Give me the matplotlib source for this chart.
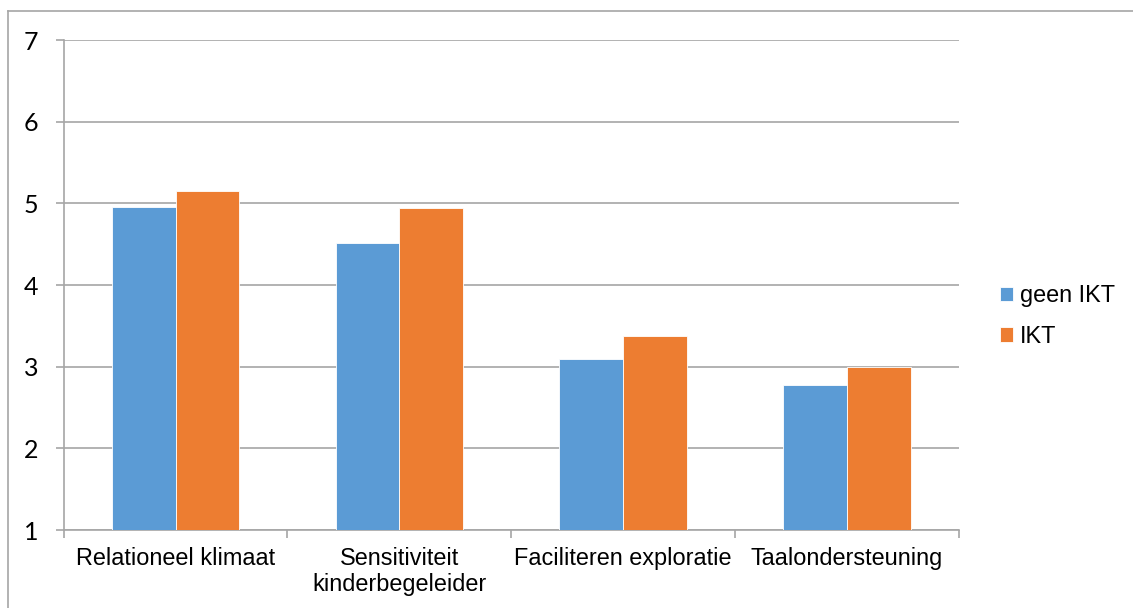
import matplotlib
matplotlib.use("Agg")
import matplotlib.pyplot as plt
import numpy as np
from matplotlib.lines import Line2D

categories = ["Relationeel klimaat", "Sensitiviteit\nkinderbegeleider", "Faciliteren exploratie", "Taalondersteuning"]
series_names = ["geen IKT", "IKT"]
geen_ikt = [4.95, 4.52, 3.10, 2.78]
ikt = [5.15, 4.94, 3.38, 3.00]
y_ticks = [1, 2, 3, 4, 5, 6, 7]
colors = ["#5B9BD5", "#ED7D31"]

plt.rcParams['font.family'] = ['Liberation Sans', 'DejaVu Sans']

fig = plt.figure(figsize=(11.33, 6.08), dpi=100)
W, H = 1133, 608
ax = fig.add_axes([63.6 / W, 1 - 530 / H, (959 - 63.6) / W, (530 - 40) / H])

x = np.arange(len(categories))
bw = 0.285
ax.bar(x - bw / 2, geen_ikt, bw, bottom=0, color=colors[0], edgecolor='white', linewidth=0.6, label=series_names[0], zorder=3)
ax.bar(x + bw / 2, ikt, bw, bottom=0, color=colors[1], edgecolor='white', linewidth=0.6, label=series_names[1], zorder=3)

ax.set_ylim(1, 7)
ax.set_xlim(-0.5, len(categories) - 0.5)
ax.set_yticks(y_ticks)
ax.set_yticklabels([str(v) for v in y_ticks], fontfamily=['Lato', 'DejaVu Sans'], fontsize=18)
ax.yaxis.grid(True, color='#a6a6a6', linewidth=1.2, zorder=0)
ax.tick_params(axis='y', length=6, width=1.2, color='#a6a6a6', pad=12)

ax.set_xticks(x)
ax.set_xticklabels(categories, fontsize=16.9, linespacing=1.2)
ax.set_xticks(np.arange(len(categories) + 1) - 0.5, minor=True)
ax.tick_params(axis='x', which='major', length=0, pad=12)
ax.tick_params(axis='x', which='minor', length=6, width=1.2, color='#a6a6a6')

for s in ['top', 'right']:
    ax.spines[s].set_visible(False)
for s in ['left', 'bottom']:
    ax.spines[s].set_color('#a6a6a6')
    ax.spines[s].set_linewidth(1.2)

leg = fig.legend(loc='center left', bbox_to_anchor=(979 / W, 1 - 316 / H), frameon=False,
                 fontsize=16.9, handlelength=0.55, handleheight=0.55, handletextpad=0.3,
                 labelspacing=0.75)

# outer chart border (only top and left visible within the image)
fig.add_artist(Line2D([7.5 / W, 1.0], [1 - 11 / H, 1 - 11 / H], transform=fig.transFigure,
                      color='#a6a6a6', linewidth=1.2))
fig.add_artist(Line2D([7.5 / W, 7.5 / W], [0.0, 1 - 11 / H], transform=fig.transFigure,
                      color='#a6a6a6', linewidth=1.2))

fig.savefig("out.png", dpi=100)
